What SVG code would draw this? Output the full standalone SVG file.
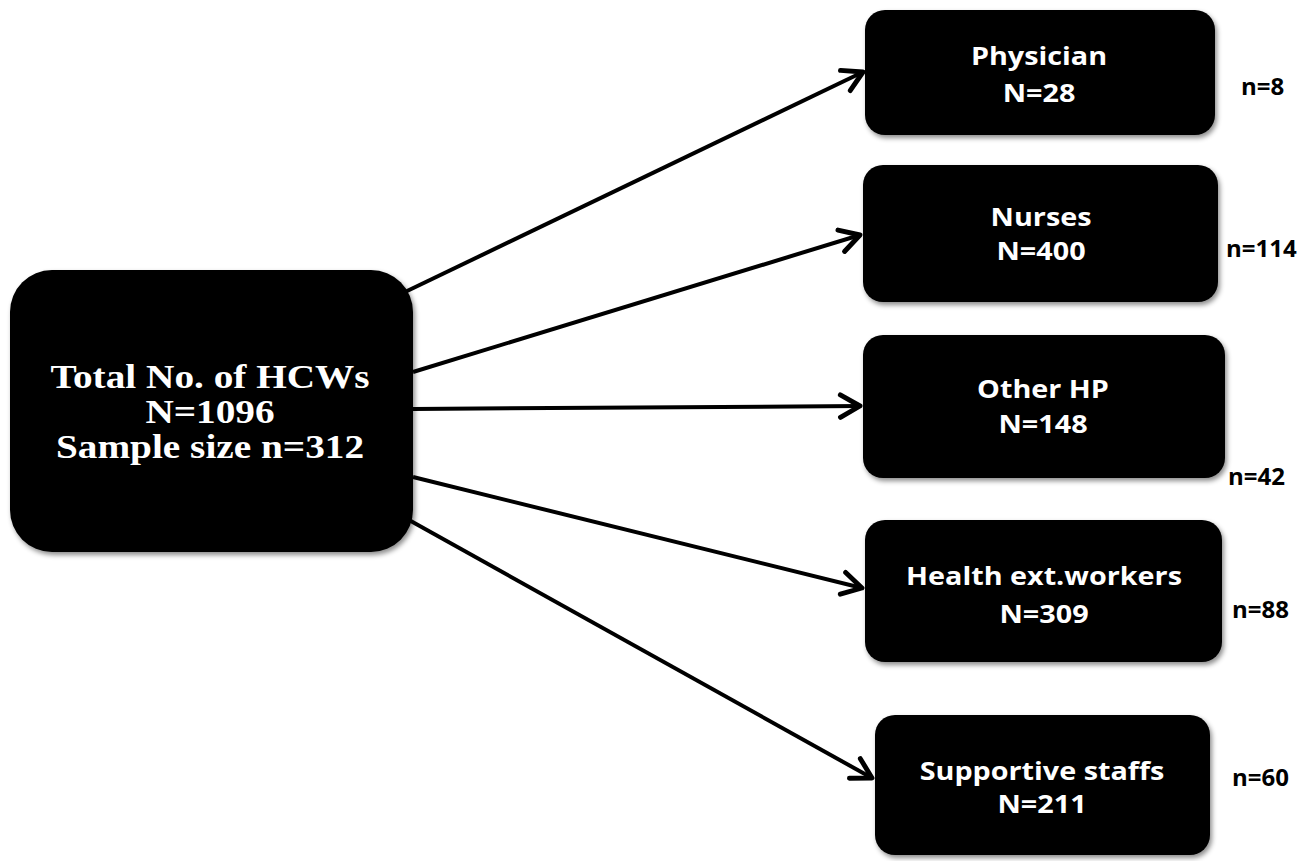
<svg xmlns="http://www.w3.org/2000/svg" width="1309" height="861" viewBox="0 0 1309 861">
<style>
.box{fill:#000;filter:url(#sh)}
.t1{font-family:"Liberation Serif",serif;font-weight:bold;font-size:33px;fill:#fff;text-anchor:middle}
.t2{font-family:"Open Sans","Liberation Sans",sans-serif;font-weight:bold;font-size:25px;fill:#fff;text-anchor:middle}
.n{font-family:"Open Sans","Liberation Sans",sans-serif;font-weight:bold;font-size:24px;fill:#000}
.c{stroke:#000;stroke-width:4;fill:none;marker-end:url(#ah)}
</style>
<defs>
<filter id="sh" x="-10%" y="-10%" width="125%" height="130%">
<feDropShadow dx="2" dy="3" stdDeviation="2.5" flood-color="#000" flood-opacity="0.45"/>
</filter>
<marker id="ah" viewBox="0 0 20 20" refX="17" refY="10" markerWidth="7" markerHeight="7" orient="auto" markerUnits="strokeWidth">
<path d="M3,2 L17,10 L3,18" fill="none" stroke="#000" stroke-width="3.5" stroke-linecap="round" stroke-linejoin="round"/>
</marker>
</defs>
<g id="connectors">
<line class="c" x1="405" y1="292" x2="863" y2="72"/>
<line class="c" x1="413" y1="372" x2="860" y2="235"/>
<line class="c" x1="413" y1="409" x2="860" y2="406"/>
<line class="c" x1="413" y1="477" x2="862" y2="588"/>
<line class="c" x1="400" y1="515" x2="872" y2="778"/>
</g>
<g id="total">
<rect class="box" x="10" y="270" width="403" height="282" rx="42"/>
<g transform="translate(210,0) scale(1.19,1)">
<text class="t1" x="0" y="388">Total No. of HCWs</text>
<text class="t1" x="0" y="423">N=1096</text>
<text class="t1" x="0" y="458">Sample size n=312</text>
</g>
</g>
<g id="physician">
<rect class="box" x="865" y="10" width="350" height="125" rx="20"/>
<g transform="translate(1039,0) scale(1.15,1)">
<text class="t2" x="0" y="65">Physician</text>
<text class="t2" x="0" y="102">N=28</text>
</g>
</g>
<g id="nurses">
<rect class="box" x="863" y="165" width="355" height="137" rx="20"/>
<g transform="translate(1041,0) scale(1.15,1)">
<text class="t2" x="0" y="226">Nurses</text>
<text class="t2" x="0" y="260">N=400</text>
</g>
</g>
<g id="otherhp">
<rect class="box" x="863" y="335" width="362" height="143" rx="20"/>
<g transform="translate(1043,0) scale(1.15,1)">
<text class="t2" x="0" y="398">Other HP</text>
<text class="t2" x="0" y="433">N=148</text>
</g>
</g>
<g id="healthext">
<rect class="box" x="865" y="520" width="357" height="142" rx="20"/>
<g transform="translate(1044,0) scale(1.15,1)">
<text class="t2" x="0" y="585">Health ext.workers</text>
<text class="t2" x="0" y="623">N=309</text>
</g>
</g>
<g id="supportive">
<rect class="box" x="875" y="715" width="335" height="140" rx="20"/>
<g transform="translate(1042,0) scale(1.15,1)">
<text class="t2" x="0" y="780">Supportive staffs</text>
<text class="t2" x="0" y="813">N=211</text>
</g>
</g>
<g id="labels">
<text class="n" x="1241" y="95">n=8</text>
<text class="n" x="1226" y="257">n=114</text>
<text class="n" x="1228" y="485">n=42</text>
<text class="n" x="1232" y="618">n=88</text>
<text class="n" x="1232" y="786">n=60</text>
</g>
</svg>
